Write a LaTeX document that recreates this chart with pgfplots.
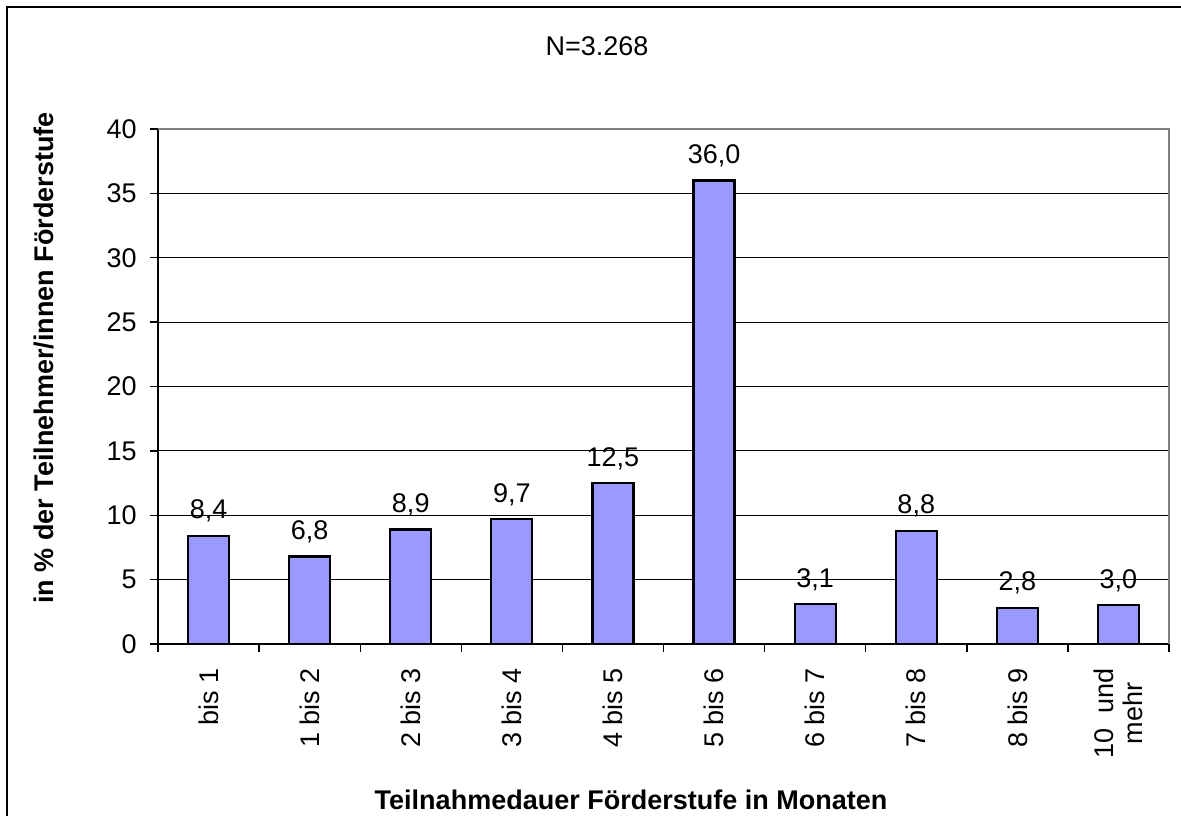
\documentclass[border=0pt]{standalone}
\usepackage{fontspec}
\setmainfont{Liberation Sans}
\usepackage{pgfplots}
\pgfplotsset{compat=1.18}
\definecolor{barblue}{HTML}{9999FF}
\newcommand\lbl{\fontsize{13.5}{14.5}\selectfont}

\begin{document}
\begin{tikzpicture}
% page = 1181 x 816 px at 0.5pt per px
\useasboundingbox (0pt,0pt) rectangle (590.5pt,408pt);
\draw[line width=1pt] (3.5pt,0pt) -- (3.5pt,404.5pt) -- (590.5pt,404.5pt);

\node[font=\lbl] at (298.5pt,385pt) {N=3.268};
\node[font=\lbl\bfseries, anchor=base] at (315.5pt,3.5pt)
  {Teilnahmedauer Förderstufe in Monaten};
\node[font=\lbl\bfseries, rotate=90] at (22pt,229pt)
  {in \% der Teilnehmer/innen Förderstufe};

\begin{axis}[
  at={(79pt,86pt)}, anchor=south west,
  scale only axis, width=505.5pt, height=257.5pt,
  ybar, bar width=20.5pt, bar shift=0pt,
  xmin=-0.5, xmax=9.5, ymin=0, ymax=40,
  ytick={0,5,...,40},
  xtick={0,...,9},
  xticklabels={bis 1, 1 bis 2, 2 bis 3, 3 bis 4, 4 bis 5, 5 bis 6,
               6 bis 7, 7 bis 8, 8 bis 9, {10\ \ und\\mehr}},
  minor xtick={-0.5,0.5,...,9.5},
  axis lines*=left,
  axis line style={black, line width=0.7pt},
  ymajorgrids, grid style={black, line width=0.5pt},
  tick align=outside,
  major tick length=4pt, minor tick length=4pt,
  every major x tick/.append style={draw=none},
  every minor x tick/.append style={black, line width=0.7pt},
  every major y tick/.append style={black, line width=0.7pt},
  /pgf/number format/assume math mode=true,
  tick label style={font=\lbl},
  xticklabel style={rotate=90, anchor=east, align=center, inner sep=0pt},
  xticklabel shift=8pt,
  yticklabel style={anchor=east, inner sep=0pt},
  yticklabel shift=6.5pt,
  nodes near coords={\pgfmathprintnumber[fixed,fixed zerofill,precision=1,use comma,assume math mode=true]{\pgfplotspointmeta}},
  every node near coord/.append style={font=\lbl, anchor=base, inner sep=0pt, yshift=8.5pt},
  clip=false,
]
\addplot[fill=barblue, draw=black, line width=1.1pt]
  coordinates {(0,8.4) (1,6.8) (2,8.9) (3,9.7) (4,12.5) (5,36.0)
               (6,3.1) (7,8.8) (8,2.8) (9,3.0)};
\draw[color=gray, line width=1pt] (rel axis cs:0,1) -- (rel axis cs:1,1) -- (rel axis cs:1,0);
\end{axis}
\end{tikzpicture}
\end{document}
